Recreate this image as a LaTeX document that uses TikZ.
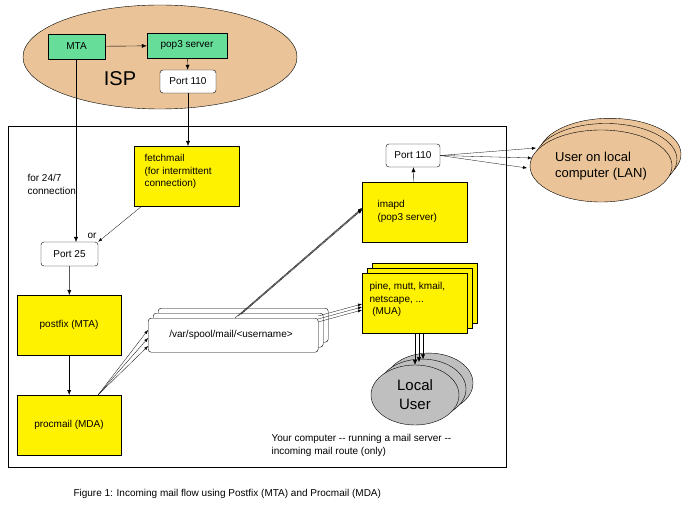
\documentclass[tikz,border=0pt]{standalone}
\usepackage{fontspec}
\setmainfont{Liberation Sans}
\usetikzlibrary{arrows.meta,shapes.geometric}
\begin{document}
\begin{tikzpicture}[x=1pt,y=-1pt,font=\fontsize{10}{12.5}\selectfont,
 box/.style={draw,fill=yellow,inner sep=0pt,anchor=north west},
 gbox/.style={draw,fill={rgb,255:red,102;green,221;blue,153},inner sep=0pt},
 port/.style={draw,fill=white,rounded corners=3pt,inner sep=0pt},
 ar/.style={-{Latex[length=5pt,width=4pt]}},
 thin ar/.style={-{Latex[length=4pt,width=3pt]},line width=0.3pt},
 tan/.style={draw,fill={rgb,255:red,234;green,196;blue,152}}]
\useasboundingbox (0,0) rectangle (691,513);
% ISP
\node[tan,ellipse,minimum width=274pt,minimum height=104pt] (isp) at (160,57) {};
\node[font=\fontsize{20}{22}\selectfont] at (120,79) {ISP};
\node[gbox,minimum width=57pt,minimum height=25pt] (mta) at (76.5,46.5) {MTA};
\node[gbox,minimum width=80pt,minimum height=25pt] (pop) at (187,45.5) {pop3 server};
\node[port,minimum width=56pt,minimum height=23pt] (p110) at (188,81.5) {Port 110};
\draw[ar] (mta) -- (pop);
\draw[ar] (pop) -- (p110);
% main rect
\node[draw,anchor=north west,minimum width=498pt,minimum height=341pt,inner sep=0pt] (comp) at (8,126) {};
\node[box,minimum width=105pt,minimum height=60pt] (fetch) at (134,146) {};
\node[anchor=north west,align=left] at (141,151) {fetchmail\\(for intermittent\\connection)};
\node[anchor=north west,align=left] at (24,171) {for 24/7\\connection};
\node[port,minimum width=57pt,minimum height=24pt] (p25) at (69.5,254) {Port 25};
\node at (92,236) {or};
\draw[ar] (p110) -- (p110|-fetch.north);
\coordinate (mtab) at (76,59);
\draw[ar] (mtab) -- (76,242);
\draw[thin ar] (142,206) -- (p25.north east);
\node[box,minimum width=104pt,minimum height=60pt] (postfix) at (17,295) {};
\node at (69,325) {postfix (MTA)};
\node[box,minimum width=104pt,minimum height=60pt] (proc) at (17,395) {};
\node at (69,425) {procmail (MDA)};
\draw[ar] (p25) -- (postfix);
\draw[ar] (postfix) -- (proc);
% spool
\foreach \d in {10,5}
 \node[port,anchor=north west,minimum width=170pt,minimum height=34pt] at (148+\d,318-\d) {};
\node[port,anchor=north west,minimum width=170pt,minimum height=34pt] (spool) at (148,318) {};
\node at (231,335) {/var/spool/mail/<username>};
\coordinate (pc) at (98,395);
\foreach \y in {330,338,346}
 \draw[thin ar] (pc) -- (148+\y/100-3.3,\y);
% imapd
\node[box,minimum width=105pt,minimum height=60pt] (imapd) at (362,182) {};
\node[anchor=north west,align=left] at (374,197) {imapd\\(pop3 server)};
\node[port,minimum width=54pt,minimum height=23pt] (rp110) at (413,155.5) {Port 110};
\draw[ar] (imapd) -- (rp110);
\foreach \d in {0,3,6}
 \draw[thin ar] (235+\d,318-\d*0.6) -- (362,208+\d*0.3);
% MUA
\foreach \d in {10,5}
 \node[box,minimum width=105pt,minimum height=60pt] at (362+\d,273-\d) {};
\node[box,minimum width=105pt,minimum height=60pt] (mua) at (362,273) {};
\node[anchor=north west,align=left] at (366,279) {pine, mutt, kmail,\\netscape, ...\\ \ (MUA)};
\foreach \d in {0,5,10}
 \draw[thin ar] (318,322-\d*0.6) -- (362,310-\d*0.6);
% Local user
\foreach \d in {14,7}
 \node[draw,fill=black!25,ellipse,minimum width=88pt,minimum height=60pt] at (415+\d,395-\d*0.85) {};
\node[draw,fill=black!25,ellipse,minimum width=88pt,minimum height=60pt,align=center,font=\fontsize{15}{19}\selectfont] (lu) at (415,395) {Local\\User};
\foreach \d in {0,4,8}
 \draw[ar] (415+\d,333) -- (415+\d,365-\d*0.7);
% User on local computer
\foreach \d in {9,5}
 \node[tan,ellipse,minimum width=142pt,minimum height=72pt] at (601+\d,166-\d*1.3) {};
\node[tan,ellipse,minimum width=142pt,minimum height=72pt,align=left,font=\fontsize{13}{16}\selectfont] (ulc) at (601,166) {User on local\\computer (LAN)};
\foreach \y/\x in {148/536,158/532,168/527}
 \draw[thin ar] (rp110.east) -- (\x,\y);
\node[anchor=north west,align=left] at (268,431) {Your computer -{}- running a mail server -{}-\\incoming mail route (only)};
\node[anchor=west] at (70,494) {Figure 1: Incoming mail flow using Postfix (MTA) and Procmail (MDA)};
\end{tikzpicture}
\end{document}
